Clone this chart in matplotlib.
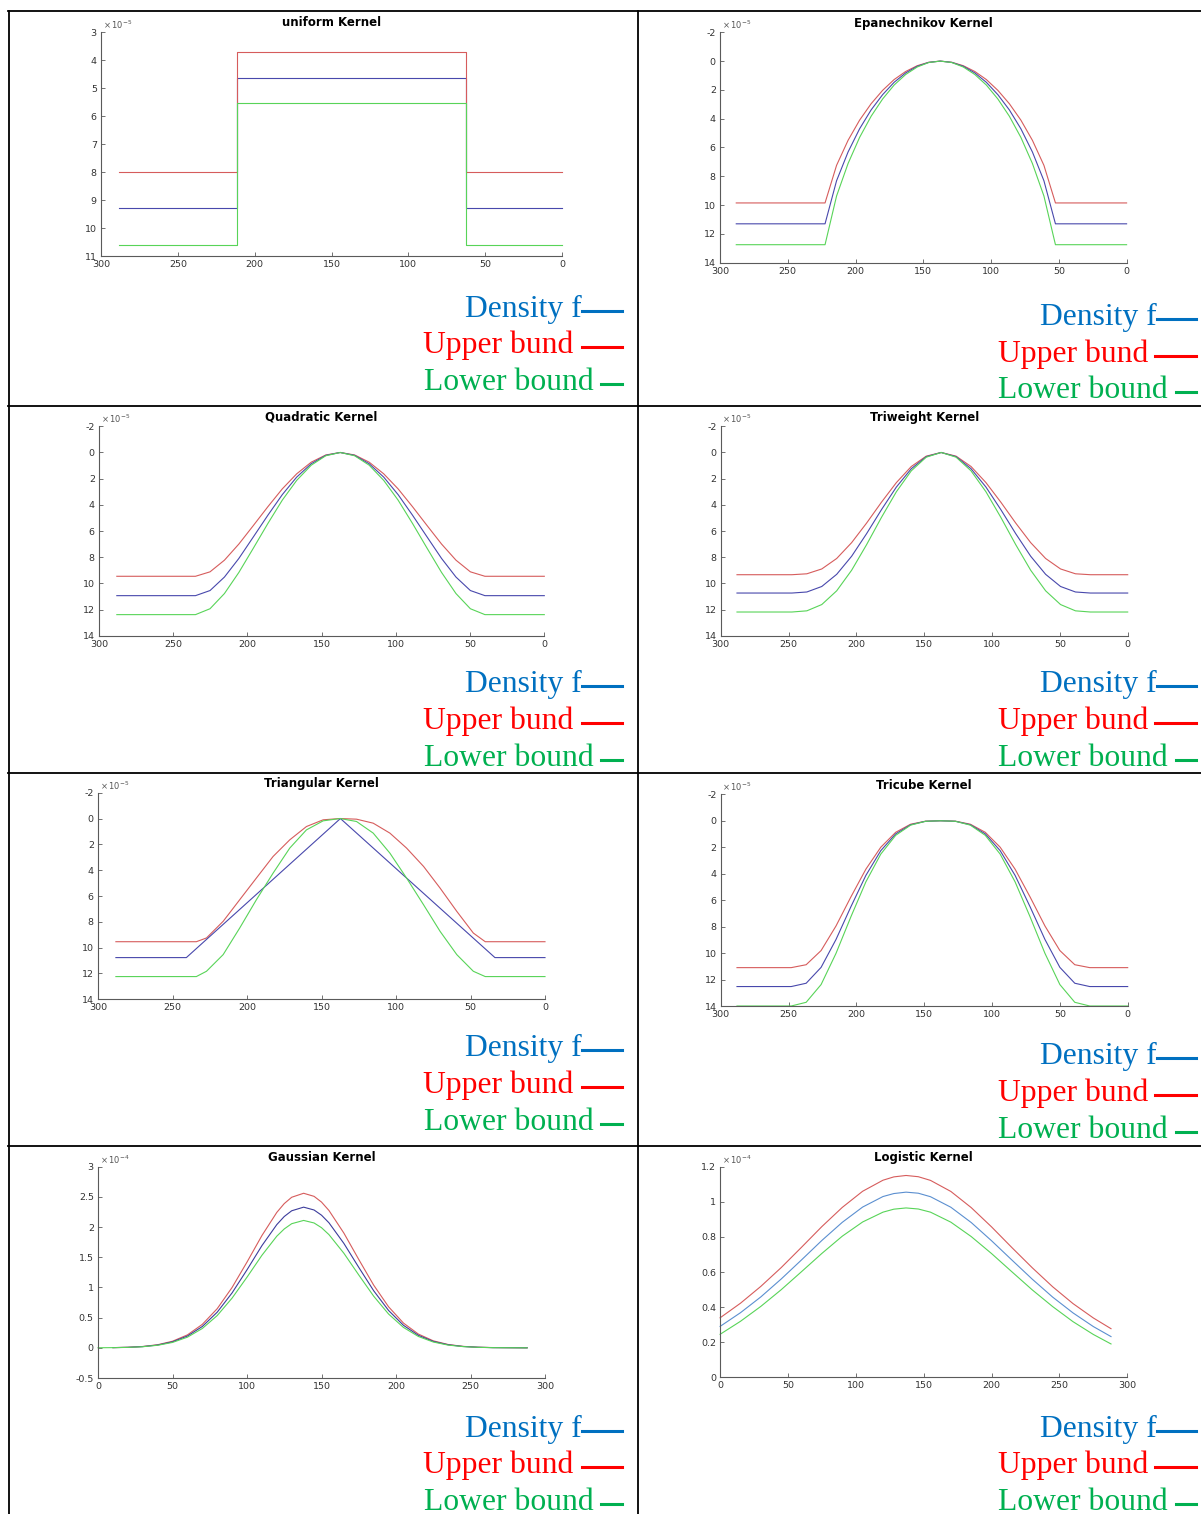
import matplotlib.pyplot as plt
from matplotlib.lines import Line2D
from matplotlib.ticker import FormatStrFormatter

plt.rcParams['axes.unicode_minus'] = False

# ---- data (y in units of 1e-5 / 1e-4) ----
# uniform kernel
uni_x = [288, 211.5, 211.5, 62.5, 62.5, 0]
uni_red = [8.0, 8.0, 3.72, 3.72, 8.0, 8.0]
uni_blue = [9.3, 9.3, 4.63, 4.63, 9.3, 9.3]
uni_green = [10.6, 10.6, 5.53, 5.53, 10.6, 10.6]

# Epanechnikov kernel
epa_x = [288, 222.5, 214, 205.5, 197, 188.5, 180, 171.5, 163, 154.5, 146, 137.5,
         129, 120.5, 112, 103.5, 95, 86.5, 78, 69.5, 61, 52.5, 0]
epa_red = [9.85, 9.85, 7.24, 5.50, 4.10, 2.96, 2.03, 1.28, 0.72, 0.32, 0.08, 0,
           0.08, 0.32, 0.72, 1.28, 2.03, 2.96, 4.10, 5.50, 7.24, 9.85, 9.85]
epa_blue = [11.3, 11.3, 8.31, 6.31, 4.70, 3.39, 2.33, 1.47, 0.82, 0.36, 0.09, 0,
            0.09, 0.36, 0.82, 1.47, 2.33, 3.39, 4.70, 6.31, 8.31, 11.3, 11.3]
epa_green = [12.75, 12.75, 9.37, 7.11, 5.30, 3.83, 2.63, 1.66, 0.93, 0.41, 0.10, 0,
             0.10, 0.41, 0.93, 1.66, 2.63, 3.83, 5.30, 7.11, 9.37, 12.75, 12.75]

# Quadratic kernel
quad_x = [288, 235, 225.2, 215.5, 205.8, 196, 186.2, 176.5, 166.8, 157, 147.2, 137.5,
          127.8, 118, 108.2, 98.5, 88.8, 79, 69.2, 59.5, 49.8, 40, 0]
quad_red = [9.46, 9.46, 9.12, 8.23, 7.00, 5.58, 4.14, 2.78, 1.63, 0.74, 0.19, 0,
            0.19, 0.74, 1.63, 2.78, 4.14, 5.58, 7.00, 8.23, 9.12, 9.46, 9.46]
quad_blue = [10.94, 10.94, 10.55, 9.52, 8.10, 6.45, 4.79, 3.22, 1.88, 0.86, 0.22, 0,
             0.22, 0.86, 1.88, 3.22, 4.79, 6.45, 8.10, 9.52, 10.55, 10.94, 10.94]
quad_green = [12.39, 12.39, 11.94, 10.78, 9.17, 7.31, 5.42, 3.64, 2.13, 0.97, 0.25, 0,
              0.25, 0.97, 2.13, 3.64, 5.42, 7.31, 9.17, 10.78, 11.94, 12.39, 12.39]

# Triweight kernel
trw_x = [288, 247.5, 236.5, 225.5, 214.5, 203.5, 192.5, 181.5, 170.5, 159.5, 148.5, 137.5,
         126.5, 115.5, 104.5, 93.5, 82.5, 71.5, 60.5, 49.5, 38.5, 27.5, 0]
trw_red = [9.34, 9.34, 9.27, 8.90, 8.10, 6.89, 5.40, 3.80, 2.30, 1.07, 0.28, 0,
           0.28, 1.07, 2.30, 3.80, 5.40, 6.89, 8.10, 8.90, 9.27, 9.34, 9.34]
trw_blue = [10.74, 10.74, 10.66, 10.24, 9.31, 7.93, 6.21, 4.37, 2.64, 1.24, 0.32, 0,
            0.32, 1.24, 2.64, 4.37, 6.21, 7.93, 9.31, 10.24, 10.66, 10.74, 10.74]
trw_green = [12.19, 12.19, 12.10, 11.62, 10.57, 9.00, 7.05, 4.96, 3.00, 1.40, 0.36, 0,
             0.36, 1.40, 3.00, 4.96, 7.05, 9.00, 10.57, 11.62, 12.10, 12.19, 12.19]

# Triangular kernel
tri_x_blue = [288, 240.7, 137.3, 33.6, 0]
tri_blue = [10.77, 10.77, 0, 10.77, 10.77]
tri_x = [288, 234, 227.2, 216, 204.9, 193.7, 182.5, 171.3, 160.1, 148.9, 137.5,
         126.5, 115.3, 104.1, 92.9, 81.5, 70.4, 59.2, 48.1, 40.1, 0]
tri_red = [9.54, 9.54, 9.25, 7.96, 6.29, 4.61, 2.94, 1.65, 0.62, 0.10, 0.0,
           0.05, 0.36, 1.13, 2.29, 3.71, 5.39, 7.19, 8.87, 9.54, 9.54]
tri_green = [12.24, 12.24, 11.83, 10.54, 8.48, 6.29, 4.23, 2.29, 0.88, 0.18, 0.0,
             0.23, 1.13, 2.68, 4.61, 6.68, 8.74, 10.54, 11.83, 12.24, 12.24]

# Tricube kernel
tcb_x = [288, 248, 237, 226, 215, 204, 193, 182, 171, 160, 149, 138,
         127, 116, 105, 94, 83, 72, 61, 50, 39, 28, 0]
tcb_red = [11.1, 11.1, 10.88, 9.81, 7.95, 5.75, 3.66, 2.00, 0.87, 0.26, 0.03, 0,
           0.03, 0.26, 0.87, 2.00, 3.66, 5.75, 7.95, 9.81, 10.88, 11.1, 11.1]
tcb_blue = [12.53, 12.53, 12.28, 11.08, 8.97, 6.49, 4.13, 2.26, 0.99, 0.30, 0.04, 0,
            0.04, 0.30, 0.99, 2.26, 4.13, 6.49, 8.97, 11.08, 12.28, 12.53, 12.53]
tcb_green = [14.0, 14.0, 13.72, 12.38, 10.02, 7.25, 4.62, 2.52, 1.10, 0.33, 0.04, 0,
             0.04, 0.33, 1.10, 2.52, 4.62, 7.25, 10.02, 12.38, 13.72, 14.0, 14.0]

# Gaussian kernel (1e-4)
gau_x = [10, 20, 30, 40, 50, 60, 70, 80, 90, 100, 110, 120, 125, 130, 138, 145, 150, 155,
         165, 175, 185, 195, 205, 215, 225, 235, 245, 255, 265, 288]
gau_red = [0.003, 0.009, 0.022, 0.051, 0.109, 0.214, 0.388, 0.648, 1.000, 1.420, 1.859,
           2.243, 2.389, 2.494, 2.56, 2.509, 2.414, 2.275, 1.901, 1.464, 1.039, 0.680,
           0.410, 0.228, 0.116, 0.055, 0.024, 0.010, 0.004, 0.0]
gau_blue = [0.003, 0.008, 0.020, 0.046, 0.099, 0.195, 0.353, 0.590, 0.910, 1.292, 1.692,
            2.041, 2.175, 2.270, 2.33, 2.283, 2.197, 2.071, 1.730, 1.333, 0.946, 0.619,
            0.373, 0.207, 0.106, 0.050, 0.022, 0.009, 0.003, 0.0]
gau_xg = [0] + gau_x
gau_green = [0.001, 0.003, 0.007, 0.018, 0.042, 0.089, 0.176, 0.320, 0.534, 0.824, 1.170,
             1.532, 1.849, 1.969, 2.056, 2.11, 2.068, 1.990, 1.875, 1.567, 1.207, 0.856,
             0.560, 0.338, 0.188, 0.096, 0.045, 0.020, 0.008, 0.003, 0.0]

# Logistic kernel (1e-4)
log_x = [0, 15, 30, 45, 60, 75, 90, 105, 120, 128, 137, 146, 155, 170, 185, 200, 215, 230,
         245, 260, 275, 288]
log_red = [0.339, 0.422, 0.518, 0.625, 0.741, 0.859, 0.968, 1.060, 1.123, 1.142, 1.150,
           1.143, 1.122, 1.059, 0.967, 0.857, 0.739, 0.624, 0.516, 0.420, 0.338, 0.277]
log_blue = [0.290, 0.368, 0.458, 0.560, 0.669, 0.780, 0.883, 0.970, 1.030, 1.047, 1.055,
            1.049, 1.029, 0.969, 0.882, 0.778, 0.668, 0.559, 0.457, 0.367, 0.289, 0.232]
log_green = [0.245, 0.319, 0.404, 0.499, 0.602, 0.706, 0.804, 0.885, 0.941, 0.958, 0.965,
             0.959, 0.941, 0.884, 0.802, 0.705, 0.601, 0.498, 0.403, 0.317, 0.244, 0.190]

legend_labels = ['Density f', 'Upper bund', 'Lower bound']

# ---- figure ----
W, H = 1201, 1514
fig = plt.figure(figsize=(W / 100, H / 100), dpi=100)

RED, BLUE, GREEN = '#d65c5c', '#4848ac', '#58d458'


def px_box(left, top, right, bottom):
    return [left / W, 1 - bottom / H, (right - left) / W, (bottom - top) / H]


def kernel_axes(box, title, series, ylim, yticks, expo, xlim=(300, 0)):
    ax = fig.add_axes(px_box(*box))
    for x, y, c in series:
        ax.plot(x, y, color=c, lw=0.8, clip_on=False)
    ax.set_xlim(*xlim)
    ax.set_ylim(*ylim)
    ax.set_xticks(range(0, 301, 50))
    ax.set_yticks(yticks)
    ax.yaxis.set_major_formatter(FormatStrFormatter('%g'))
    ax.spines[['top', 'right']].set_visible(False)
    for s in ['left', 'bottom']:
        ax.spines[s].set_color('#5a5a5a')
        ax.spines[s].set_linewidth(0.8)
    ax.tick_params(direction='in', length=3, width=0.6, colors='#5a5a5a',
                   labelcolor='#333333', labelsize=6.8, pad=3)
    ax.set_title(title, fontsize=8.5, fontweight='bold', pad=4)
    ax.text(0.004, 1.005, r'$\times\,10^{%d}$' % expo, transform=ax.transAxes,
            fontsize=6, color='#555555', ha='left', va='bottom')
    return ax


kernel_axes((101, 32, 562, 256), 'uniform Kernel',
            [(uni_x, uni_blue, BLUE), (uni_x, uni_red, RED), (uni_x, uni_green, GREEN)],
            (11, 3), range(3, 12), -5)
kernel_axes((720, 32.3, 1126.6, 262.7), 'Epanechnikov Kernel',
            [(epa_x, epa_red, RED), (epa_x, epa_blue, BLUE), (epa_x, epa_green, GREEN)],
            (14, -2), range(-2, 15, 2), -5)
kernel_axes((99, 426.3, 544.3, 635.7), 'Quadratic Kernel',
            [(quad_x, quad_red, RED), (quad_x, quad_blue, BLUE), (quad_x, quad_green, GREEN)],
            (14, -2), range(-2, 15, 2), -5)
kernel_axes((720.7, 426.3, 1127.7, 635.7), 'Triweight Kernel',
            [(trw_x, trw_red, RED), (trw_x, trw_blue, BLUE), (trw_x, trw_green, GREEN)],
            (14, -2), range(-2, 15, 2), -5)
kernel_axes((98, 792.7, 545, 999.3), 'Triangular Kernel',
            [(tri_x, tri_red, RED), (tri_x_blue, tri_blue, BLUE), (tri_x, tri_green, GREEN)],
            (14, -2), range(-2, 15, 2), -5)
kernel_axes((720.7, 794.3, 1127.7, 1006), 'Tricube Kernel',
            [(tcb_x, tcb_red, RED), (tcb_x, tcb_blue, BLUE), (tcb_x, tcb_green, GREEN)],
            (14, -2), range(-2, 15, 2), -5)
kernel_axes((98, 1166.7, 545, 1378), 'Gaussian Kernel',
            [(gau_x, gau_red, RED), (gau_x, gau_blue, '#3c3c9c'), (gau_xg, gau_green, GREEN)],
            (-0.5, 3), [-0.5, 0, 0.5, 1, 1.5, 2, 2.5, 3], -4, xlim=(0, 300))
kernel_axes((720.1, 1166.7, 1127.3, 1377.3), 'Logistic Kernel',
            [(log_x, log_red, RED), (log_x, log_blue, '#5b8fd0'), (log_x, log_green, GREEN)],
            (0, 1.2), [0, 0.2, 0.4, 0.6, 0.8, 1, 1.2], -4, xlim=(0, 300))

# ---- text legends under each plot ----
leg_colors = ['#0070c0', '#ff0000', '#00b050']
left_col = {'text_right': [582, 573.5, 594], 'line': [(582, 622), (582, 622), (601, 622)]}
right_col = {'text_right': [1157, 1148, 1168], 'line': [(1157, 1196), (1155, 1196), (1176, 1196)]}
row_baselines = [
    (left_col, [317, 353, 390]), (right_col, [325, 362, 398]),
    (left_col, [692, 729, 766]), (right_col, [692, 729, 766]),
    (left_col, [1056, 1093, 1130]), (right_col, [1064, 1101, 1138]),
    (left_col, [1437, 1473, 1510]), (right_col, [1437, 1473, 1510]),
]
for col, bases in row_baselines:
    for lab, c, xr, (x1, x2), b in zip(legend_labels, leg_colors, col['text_right'],
                                       col['line'], bases):
        fig.text(xr / W, 1 - b / H, lab, ha='right', va='baseline', color=c,
                 fontsize=22.8, family='Liberation Serif')
        yy = 1 - (b - 6) / H
        fig.add_artist(Line2D([x1 / W, x2 / W], [yy, yy], transform=fig.transFigure,
                              color=c, lw=2.2))

# ---- table borders ----
for y in [10.5, 406, 773, 1146]:
    fig.add_artist(Line2D([8 / W, 1], [1 - y / H, 1 - y / H], transform=fig.transFigure,
                          color='black', lw=1.3))
for x in [8.5, 637.5]:
    fig.add_artist(Line2D([x / W, x / W], [1 - 10.5 / H, 0], transform=fig.transFigure,
                          color='black', lw=1.3))

fig.savefig('out.png', dpi=100)
